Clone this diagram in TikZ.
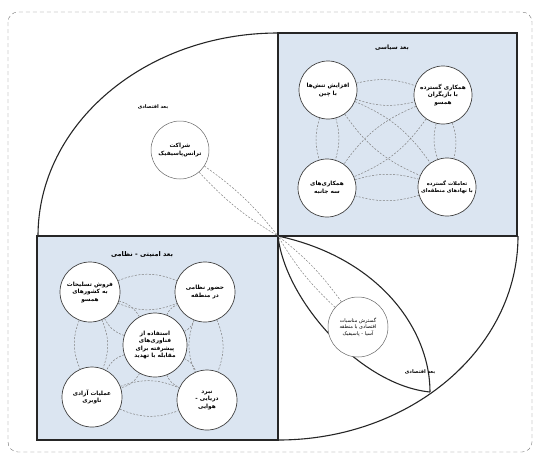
\documentclass[tikz,border=0pt]{standalone}
\usepackage{fontspec}
\newfontfamily\farsi[Script=Arabic]{DejaVu Sans}
\TeXXeTstate=1
\usetikzlibrary{calc}
\definecolor{panelblue}{RGB}{219,229,241}
\tikzset{
  quad/.style={draw=black!85, line width=1.1pt},
  hub/.style={circle, draw=black!75, line width=.7pt, fill=white, minimum size=58pt, inner sep=0pt, align=center, font=\farsi\bfseries\fontsize{5.8}{7.5}\selectfont},
  band/.style={draw=black!50, dash pattern=on 2pt off 1.5pt, line width=.5pt},
  dimlabel/.style={font=\farsi\bfseries\fontsize{6}{7}\selectfont}
}
\newcommand{\fa}[1]{\beginR #1\endR}

\begin{document}
\begin{tikzpicture}[x=1pt, y=-1pt]
      \useasboundingbox (0,0) rectangle (537,459);
      % frame
      \draw[black!55, dash pattern=on 4pt off 3pt, rounded corners=10pt] (8,12) rectangle (532,452);
      % panels
      \fill[panelblue] (278,33) rectangle (517,236);
      \fill[panelblue] (37,236) rectangle (278,440);
      \draw[quad] (278,33) rectangle (517,236);
      \draw[quad] (37,236) rectangle (278,440);
      \coordinate (O) at (278,236);
      \coordinate (T) at (430,392);
      % arcs
      \draw[quad] (38,236) arc[start angle=180, end angle=90, x radius=240pt, y radius=203pt];
      \draw[quad] (278,440) arc[start angle=270, end angle=360, x radius=240pt, y radius=204pt];
      % lens
      \draw[quad] (O) .. controls (380,258) and (430,330) .. (T);
      \draw[quad] (O) .. controls (285,300) and (360,385) .. (T);
      % titles
      \node[dimlabel] (polT) at (392,48) {\fa{بعد سیاسی}};
      \node[dimlabel, font=\farsi\bfseries\fontsize{6.5}{7}\selectfont] (secT) at (142,255) {\fa{بعد امنیتی - نظامی}};
      \node[dimlabel, font=\farsi\bfseries\fontsize{5}{6}\selectfont] (ecoT) at (153,107) {\fa{بعد اقتصادی}};
      \node[dimlabel, font=\farsi\bfseries\fontsize{5}{6}\selectfont] (ecoB) at (420,372) {\fa{بعد اقتصادی}};
      % political
      \node[hub] (china) at (328,90) {\fa{افزایش تنش‌ها}\\\fa{با چین}};
      \node[hub] (allies) at (443,95) {\fa{همکاری گسترده}\\\fa{با بازیگران}\\\fa{همسو}};
      \node[hub] (trilat) at (327,188) {\fa{همکاری‌های}\\\fa{سه جانبه}};
      \node[hub, font=\farsi\bfseries\fontsize{5.2}{7}\selectfont] (regional) at (447,187) {\fa{تعاملات گسترده}\\\fa{با نهادهای منطقه‌ای}};
      % security
      \node[hub, minimum size=60pt] (arms) at (90,292) {\fa{فروش تسلیحات}\\\fa{به کشورهای}\\\fa{همسو}};
      \node[hub, minimum size=60pt] (presence) at (205,292) {\fa{حضور نظامی}\\\fa{در منطقه}};
      \node[hub, minimum size=64pt] (tech) at (155,345) {\fa{استفاده از}\\\fa{فناوری‌های}\\\fa{پیشرفته برای}\\\fa{مقابله با تهدید}};
      \node[hub, minimum size=60pt] (fonop) at (92,397) {\fa{عملیات آزادی}\\\fa{ناوبری}};
      \node[hub, minimum size=60pt] (airsea) at (207,400) {\fa{نبرد}\\\fa{دریایی -}\\\fa{هوایی}};
      % economic
      \node[hub, draw=black!60, line width=.5pt] (tpp) at (180,150) {\fa{شراکت}\\\fa{ترانس‌پاسیفیک}};
      \node[hub, draw=black!60, line width=.5pt, minimum size=60pt, font=\farsi\fontsize{5}{6.5}\selectfont] (asia) at (358,327) {\fa{گسترش مناسبات}\\\fa{اقتصادی با منطقه}\\\fa{آسیا - پاسیفیک}};
      % links
      \foreach \a/\b in {china/allies, china/trilat, allies/regional, trilat/regional, china/regional, allies/trilat} {
        \draw[band] (\a) to[bend left=16] (\b);
        \draw[band] (\a) to[bend right=16] (\b);
      }
      \foreach \a/\b in {arms/presence, arms/fonop, presence/airsea, fonop/airsea, tech/arms, tech/presence, tech/fonop, tech/airsea} {
        \draw[band] (\a) to[bend left=22] (\b);
        \draw[band] (\a) to[bend right=22] (\b);
      }
      \foreach \a in {tpp, asia} {
        \draw[band] (\a) to[bend left=8] (O);
        \draw[band] (\a) to[bend right=8] (O);
      }
    \end{tikzpicture}
\end{document}
